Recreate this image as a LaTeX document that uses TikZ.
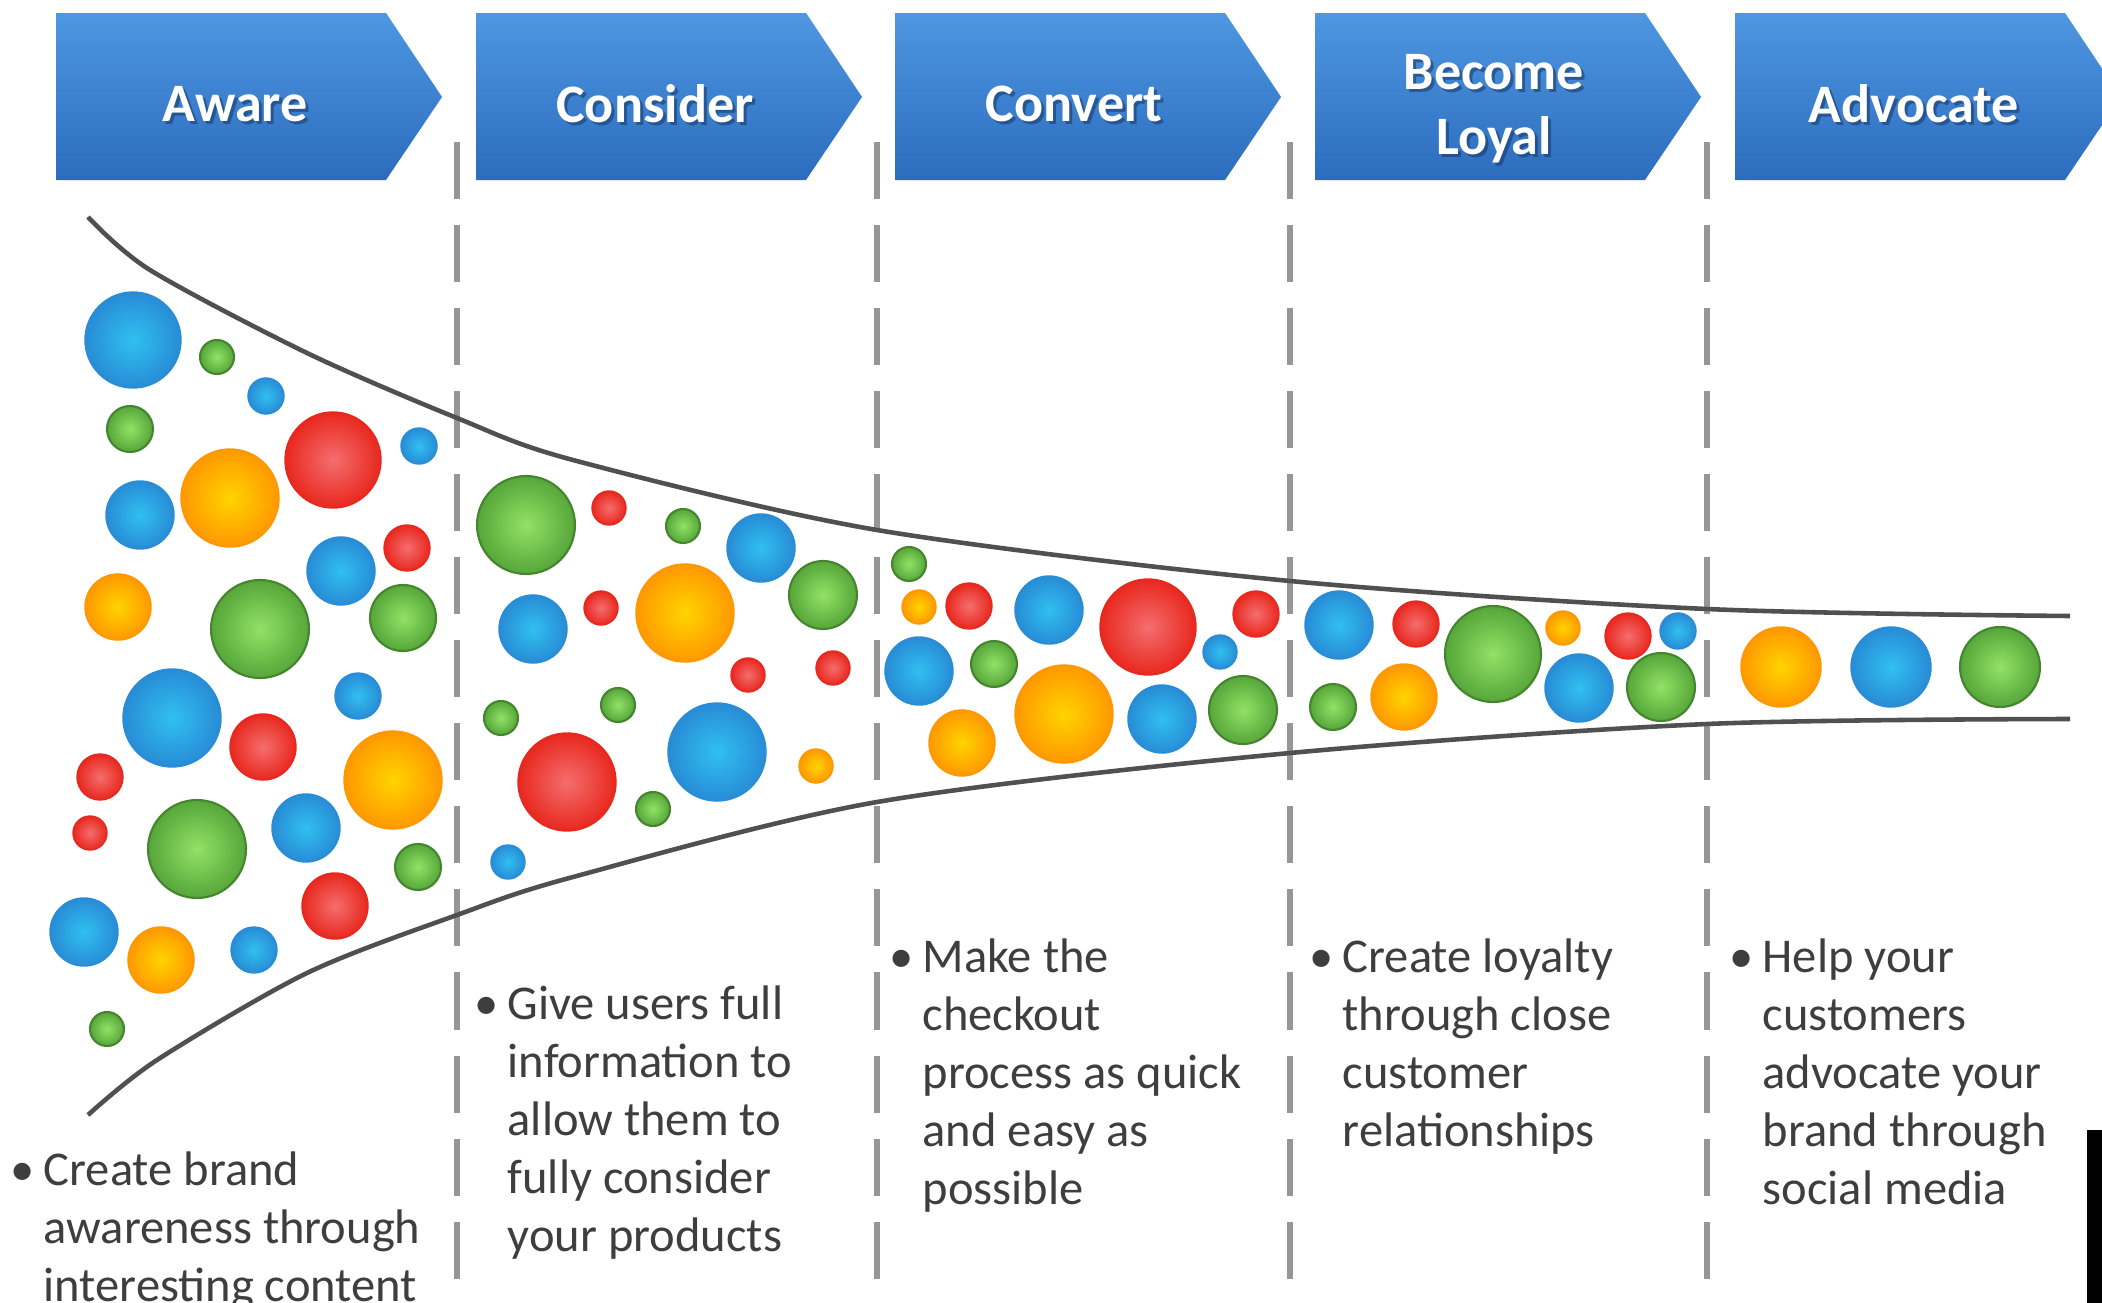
\documentclass[tikz,border=0pt]{standalone}
\usepackage{fontspec}
\setmainfont{Carlito}
\usepackage{xcolor}

\definecolor{stagetop}{RGB}{78,151,225}
\definecolor{stagebot}{RGB}{44,108,190}
\definecolor{stageshade}{RGB}{22,55,100}
\definecolor{notegray}{RGB}{62,62,62}
\definecolor{divgray}{RGB}{150,150,150}
\definecolor{funnelgray}{RGB}{80,80,80}
\definecolor{blueIn}{RGB}{48,192,240}
\definecolor{blueOut}{RGB}{40,140,214}
\definecolor{greenIn}{RGB}{146,226,102}
\definecolor{greenOut}{RGB}{86,166,58}
\definecolor{redIn}{RGB}{244,110,110}
\definecolor{redOut}{RGB}{232,40,30}
\definecolor{orangeIn}{RGB}{255,212,0}
\definecolor{orangeOut}{RGB}{255,152,0}

\tikzset{
  stage/.style={top color=stagetop, bottom color=stagebot},
  stagetitle/.style={text=white, align=center, inner sep=0pt,
    font=\bfseries\fontsize{15.4pt}{18.5pt}\selectfont},
  stageshadow/.style={stagetitle, text=stageshade, text opacity=0.55},
  note/.style={anchor=north west, inner sep=0pt, align=left, text=notegray,
    font=\fontsize{13.8pt}{16.5pt}\selectfont},
  divider/.style={draw=divgray, line width=1.5pt, dash pattern=on 0.57cm off 0.26cm},
  funnel/.style={draw=funnelgray, line width=1.3pt},
  blueball/.style={inner color=blueIn, outer color=blueOut, draw=blueOut, line width=0.4pt},
  greenball/.style={inner color=greenIn, outer color=greenOut, draw=greenOut!80!black, line width=0.6pt},
  redball/.style={inner color=redIn, outer color=redOut, draw=redOut, line width=0.4pt},
  orangeball/.style={inner color=orangeIn, outer color=orangeOut, draw=orangeOut, line width=0.4pt}
}

\begin{document}
\begin{tikzpicture}[x=0.01cm, y=-0.01cm]
    \path[use as bounding box, clip] (0,0) rectangle (2102,1303);
    \fill[white] (0,0) rectangle (2102,1303);

    % Stage arrows
    \shade[stage] (56,13) -- ++(330,0) -- ++(56,84) -- ++(-56,83) -- ++(-330,0) -- cycle;
    \shade[stage] (476,13) -- ++(330,0) -- ++(56,84) -- ++(-56,83) -- ++(-330,0) -- cycle;
    \shade[stage] (895,13) -- ++(330,0) -- ++(56,84) -- ++(-56,83) -- ++(-330,0) -- cycle;
    \shade[stage] (1315,13) -- ++(330,0) -- ++(56,84) -- ++(-56,83) -- ++(-330,0) -- cycle;
    \shade[stage] (1735,13) -- ++(330,0) -- ++(56,84) -- ++(-56,83) -- ++(-330,0) -- cycle;

    % titles, with a soft drop shadow underneath
    \node[stageshadow] (T1s) at (238,107) {Aware};
    \node[stageshadow] (T2s) at (658,107) {Consider};
    \node[stageshadow] (T3s) at (1077,107) {Convert};
    \node[stageshadow] (T4s) at (1497,112) {Become\\Loyal};
    \node[stageshadow] (T5s) at (1917,107) {Advocate};

    \node[stagetitle] (T1) at (235,104) {Aware};
    \node[stagetitle] (T2) at (655,104) {Consider};
    \node[stagetitle] (T3) at (1074,104) {Convert};
    \node[stagetitle] (T4) at (1494,109) {Become\\Loyal};
    \node[stagetitle] (T5) at (1914,104) {Advocate};

    % Dashed dividers
    \draw[divider] (457,142) -- (457,1303);
    \draw[divider] (877,142) -- (877,1303);
    \draw[divider] (1290,142) -- (1290,1303);
    \draw[divider] (1707,142) -- (1707,1303);

    % Funnel outline
    \draw[funnel] plot[smooth] coordinates {(88,217) (150,270) (307,353) (457,418) (573,460)
        (877,530) (1290,581) (1707,609) (2070,616)};
    \draw[funnel] plot[smooth] coordinates {(88,1115) (157,1060) (307,973) (457,915) (573,877)
        (877,802) (1290,753) (1707,724) (2070,719)};

    % Aware
    \shadedraw[blueball] (133,340) circle (48);
    \shadedraw[greenball] (217,357) circle (17);
    \shadedraw[blueball] (266,396) circle (18);
    \shadedraw[greenball] (130,429) circle (23);
    \shadedraw[redball] (333,460) circle (48);
    \shadedraw[blueball] (419,446) circle (18);
    \shadedraw[orangeball] (230,498) circle (49);
    \shadedraw[blueball] (140,515) circle (34);
    \shadedraw[redball] (407,548) circle (23);
    \shadedraw[blueball] (341,571) circle (34);
    \shadedraw[orangeball] (118,607) circle (33);
    \shadedraw[greenball] (260,629) circle (49);
    \shadedraw[greenball] (403,618) circle (33);
    \shadedraw[blueball] (358,696) circle (23);
    \shadedraw[blueball] (172,718) circle (49);
    \shadedraw[redball] (263,747) circle (33);
    \shadedraw[orangeball] (393,780) circle (49);
    \shadedraw[redball] (100,777) circle (23);
    \shadedraw[redball] (90,833) circle (17);
    \shadedraw[greenball] (197,849) circle (49);
    \shadedraw[blueball] (306,828) circle (34);
    \shadedraw[greenball] (418,867) circle (23);
    \shadedraw[redball] (335,906) circle (33);
    \shadedraw[blueball] (84,932) circle (34);
    \shadedraw[orangeball] (161,960) circle (33);
    \shadedraw[blueball] (254,950) circle (23);
    \shadedraw[greenball] (107,1029) circle (17);

    % Consider
    \shadedraw[greenball] (526,525) circle (49);
    \shadedraw[redball] (609,508) circle (17);
    \shadedraw[greenball] (683,526) circle (17);
    \shadedraw[blueball] (761,548) circle (34);
    \shadedraw[greenball] (823,595) circle (34);
    \shadedraw[blueball] (533,629) circle (34);
    \shadedraw[redball] (601,608) circle (17);
    \shadedraw[orangeball] (685,613) circle (49);
    \shadedraw[redball] (748,675) circle (17);
    \shadedraw[redball] (833,668) circle (17);
    \shadedraw[greenball] (501,718) circle (17);
    \shadedraw[greenball] (618,705) circle (17);
    \shadedraw[blueball] (717,752) circle (49);
    \shadedraw[redball] (567,782) circle (49);
    \shadedraw[orangeball] (816,766) circle (17);
    \shadedraw[greenball] (653,809) circle (17);
    \shadedraw[blueball] (508,862) circle (17);

    % Convert
    \shadedraw[greenball] (909,564) circle (17);
    \shadedraw[orangeball] (919,607) circle (17);
    \shadedraw[redball] (969,606) circle (23);
    \shadedraw[blueball] (1049,610) circle (34);
    \shadedraw[redball] (1148,627) circle (48);
    \shadedraw[redball] (1256,614) circle (23);
    \shadedraw[blueball] (1220,652) circle (17);
    \shadedraw[blueball] (919,671) circle (34);
    \shadedraw[greenball] (994,664) circle (23);
    \shadedraw[orangeball] (1064,714) circle (49);
    \shadedraw[blueball] (1162,719) circle (34);
    \shadedraw[greenball] (1243,710) circle (34);
    \shadedraw[orangeball] (962,743) circle (33);

    % Become loyal
    \shadedraw[blueball] (1339,625) circle (34);
    \shadedraw[redball] (1416,624) circle (23);
    \shadedraw[greenball] (1493,654) circle (48);
    \shadedraw[orangeball] (1563,628) circle (17);
    \shadedraw[redball] (1628,636) circle (23);
    \shadedraw[blueball] (1678,631) circle (18);
    \shadedraw[greenball] (1333,707) circle (23);
    \shadedraw[orangeball] (1404,697) circle (33);
    \shadedraw[blueball] (1579,688) circle (34);
    \shadedraw[greenball] (1661,687) circle (34);

    % Advocate
    \shadedraw[orangeball] (1781,667) circle (40);
    \shadedraw[blueball] (1891,667) circle (40);
    \shadedraw[greenball] (2000,667) circle (40);

    % Notes under each stage
    \node[note] (N1) at (43,1151) {\llap{\textbullet\hspace{0.09cm}}Create brand\\awareness through\\interesting content};
    \node[note] (N2) at (507,985) {\llap{\textbullet\hspace{0.09cm}}Give users full\\information to\\allow them to\\fully consider\\your products};
    \node[note] (N3) at (922,938) {\llap{\textbullet\hspace{0.09cm}}Make the\\checkout\\process as quick\\and easy as\\possible};
    \node[note] (N4) at (1342,938) {\llap{\textbullet\hspace{0.09cm}}Create loyalty\\through close\\customer\\relationships};
    \node[note] (N5) at (1762,938) {\llap{\textbullet\hspace{0.09cm}}Help your\\customers\\advocate your\\brand through\\social media};

    \fill[black] (2087,1130) rectangle (2102,1303);
\end{tikzpicture}
\end{document}
